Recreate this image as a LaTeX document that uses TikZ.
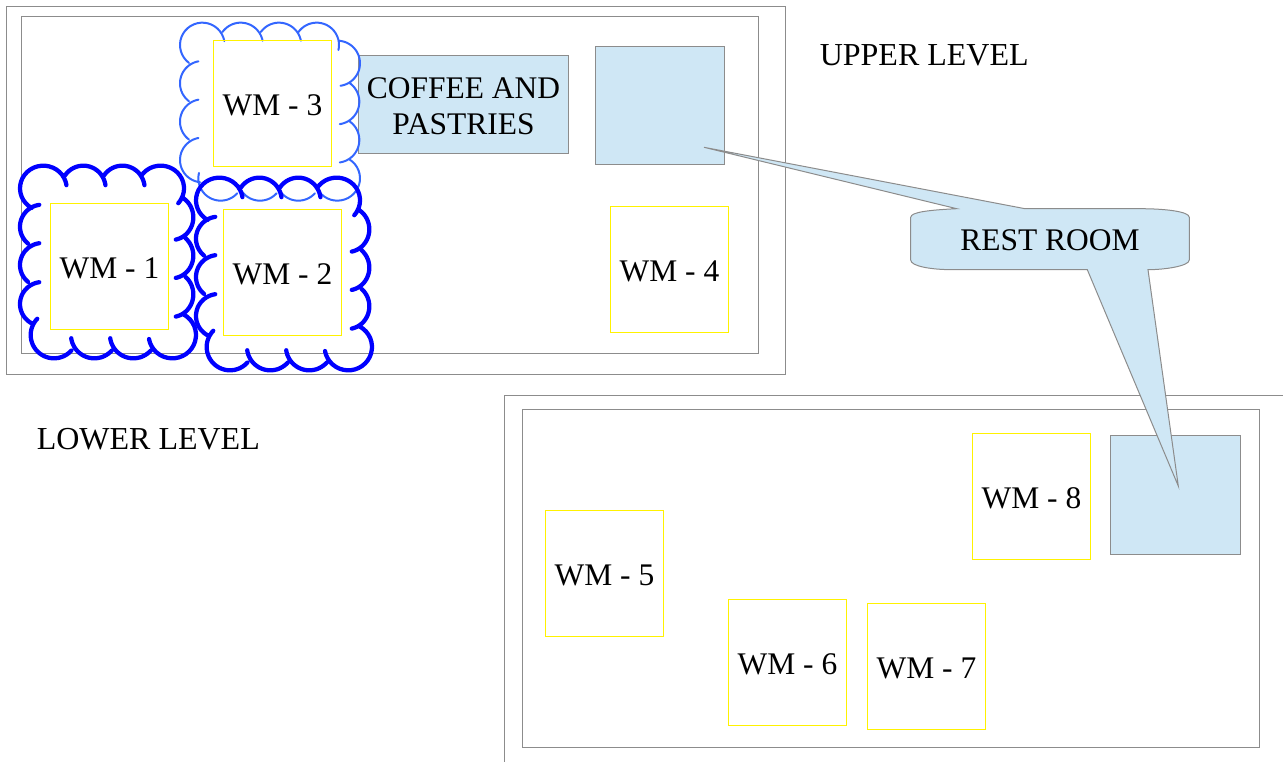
\documentclass[tikz,border=0pt]{standalone}
\usepackage{fontspec}
\setmainfont{Liberation Serif}
\definecolor{framegray}{HTML}{8C8C8C}
\definecolor{roomblue}{HTML}{CFE7F5}
\definecolor{cloudlight}{HTML}{3366FF}
\definecolor{clouddark}{HTML}{0000FF}
% one scallop: centre x, centre y, radius x, radius y, start angle, end angle
\newcommand{\scal}[6]{plot[domain=#5:#6,samples=25,smooth] ({#1+#3*cos(\x)},{#2+#4*sin(\x)})}
\newcommand{\cloudone}{%
 \scal{130}{85}{70}{68}{120}{352}
 \scal{250}{85}{67}{68}{-145}{-8}
 \scal{367}{85}{67}{68}{-145}{-8}
 \scal{482}{85}{70}{68}{-145}{41}
 \scal{515}{172}{65}{68}{-62}{79}
 \scal{515}{287}{65}{68}{-50}{79}
 \scal{515}{403}{65}{68}{-50}{79}
 \scal{517}{525}{71}{70}{-61}{170}
 \scal{400}{525}{70}{70}{42}{172}
 \scal{283}{525}{70}{70}{42}{172}
 \scal{162}{525}{70}{70}{42}{224}
 \scal{127}{432}{67}{66}{120}{262}
 \scal{127}{315}{67}{66}{130}{262}
 \scal{127}{200}{67}{66}{130}{262}
}
\newcommand{\cloudthree}{%
 \scal{607}{135}{67}{67}{127}{350}
 \scal{722}{135}{67}{67}{-144}{-11}
 \scal{837}{135}{67}{67}{-144}{-11}
 \scal{950}{135}{67}{67}{-144}{13}
 \scal{1012}{190}{68}{68}{-86}{82}
 \scal{1010}{305}{68}{68}{-55}{82}
 \scal{1010}{420}{68}{68}{-55}{82}
 \scal{1012}{535}{68}{67}{-57}{162}
 \scal{895}{535}{67}{67}{42}{162}
 \scal{780}{535}{67}{67}{42}{162}
 \scal{662}{535}{67}{67}{42}{194}
 \scal{607}{480}{67}{67}{96}{260}
 \scal{607}{365}{67}{67}{127}{260}
 \scal{607}{250}{67}{67}{127}{260}
}
\tikzset{
  px/.style={x=0.75pt,y=-0.75pt},
  labelfont/.style={font=\fontsize{23.6}{27.2}\selectfont},
  frameline/.style={draw=framegray,line width=.75pt},
  wmbox/.style={draw=yellow,line width=.9pt,minimum width=88.5pt,minimum height=94.5pt,
    inner sep=0pt,outer sep=0pt,text height=18.6pt,text depth=0pt,labelfont},
  roombox/.style={draw=framegray,fill=roomblue,line width=.75pt,inner sep=0pt,outer sep=0pt},
  titletext/.style={inner sep=0pt,anchor=base west,font=\fontsize{24}{27.4}\selectfont},
  lightcloud/.style={draw=cloudlight,line width=1.5pt,line cap=round,line join=round},
  darkcloud/.style={draw=clouddark,line width=3.2pt,line cap=round,line join=round}
}
\begin{document}
\begin{tikzpicture}[px]
\useasboundingbox (0,0) rectangle (1283,762);
% level frames
\draw[frameline] (6.5,6.5) rectangle (785.5,374.5);
\draw[frameline] (21.5,16.5) rectangle (758.5,353.5);
\draw[frameline] (504.5,762) -- (504.5,395.5) -- (1283,395.5);
\draw[frameline] (522.5,409.5) rectangle (1259.5,747.5);
% rooms
\node[roombox,minimum width=157.5pt,minimum height=73.5pt,align=center,labelfont] (coffee) at (463.5,104.5) {\rule{0pt}{18.5pt}COFFEE AND\\PASTRIES};
\node[roombox,minimum width=96.75pt,minimum height=88.5pt] (restup) at (660,105.5) {};
\node[roombox,minimum width=97.5pt,minimum height=89.25pt] (restdown) at (1175.5,495) {};
% clouds
\begin{scope}[x=.25pt,y=-.25pt]
\draw[lightcloud] \cloudthree;
\end{scope}
\begin{scope}[x=.25pt,y=-.25pt,shift={(132pt,-129pt)}]
\draw[darkcloud] \cloudone;
\end{scope}
\begin{scope}[x=.25pt,y=-.25pt,shift={(0pt,-120pt)}]
\draw[darkcloud] \cloudone;
\end{scope}
% washing machines
\node[wmbox] (wm3) at (272.5,103.5) {WM - 3};
\node[wmbox] (wm1) at (109.5,266.5) {WM - 1};
\node[wmbox] (wm2) at (282.5,272.5) {WM - 2};
\node[wmbox] (wm4) at (669.5,269.5) {WM - 4};
\node[wmbox] (wm5) at (604.5,573.5) {WM - 5};
\node[wmbox] (wm6) at (787.5,662.5) {WM - 6};
\node[wmbox] (wm7) at (926.5,666.5) {WM - 7};
\node[wmbox] (wm8) at (1031.5,496.5) {WM - 8};
% callout
\coordinate (tipup) at (704,147.3);
\coordinate (tipdown) at (1178.3,486);
\draw[roombox] (956.7,208.7) -- (tipup) -- (1025,208.7) -- (1140,208.7)
  .. controls (1165,208.7) and (1189.3,211.5) .. (1189.3,217.3) -- (1189.3,260)
  .. controls (1189.3,266) and (1165,269.7) .. (1148,269.7) -- (tipdown) -- (1087.3,269.7) -- (953,269.7)
  .. controls (930,269.7) and (910.7,266) .. (910.7,260) -- (910.7,217.3)
  .. controls (910.7,212) and (930,210) .. cycle;
\node[inner sep=0pt,anchor=base,labelfont] (rest) at (1050,250.7) {REST ROOM};
% level titles
\node[titletext] (upper) at (819.5,65.5) {UPPER LEVEL};
\node[titletext] (lower) at (36.5,449.5) {LOWER LEVEL};
\end{tikzpicture}
\end{document}
